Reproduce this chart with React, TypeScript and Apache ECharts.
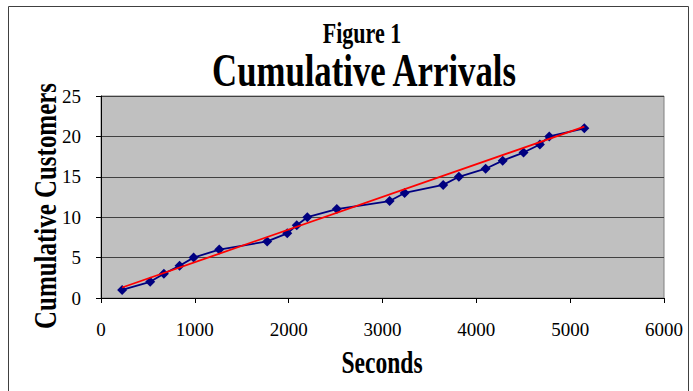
import React, { useEffect, useRef } from "react";
import * as echarts from "echarts";

const seconds = [225, 524, 670, 837, 987, 1260, 1771, 1985, 2086, 2199, 2513, 3076, 3236, 3647, 3814, 4099, 4281, 4503, 4677, 4777, 5151];
const customers = [1, 2, 3, 4, 5, 6, 7, 8, 9, 10, 11, 12, 13, 14, 15, 16, 17, 18, 19, 20, 21];
const trendX = [225, 5151];
const trendY = [1.3, 21.2];
const titleTop = "Figure 1";
const titleMain = "Cumulative Arrivals";
const xName = "Seconds";
const yName = "Cumulative Customers";

const SERIF = '"Liberation Serif", "Times New Roman", serif';

export default function App() {
  const ref = useRef<HTMLDivElement>(null);
  useEffect(() => {
    const chart = echarts.init(ref.current!, null, { renderer: "svg" });
    chart.setOption({
      animation: false,
      backgroundColor: "#ffffff",
      grid: {
        left: 101,
        top: 96,
        width: 563,
        height: 202,
        show: true,
        backgroundColor: "#C0C0C0",
        borderColor: "#808080",
        borderWidth: 1,
      },
      xAxis: {
        type: "value",
        min: 0,
        max: 6000,
        interval: 1000,
        axisLine: { show: true, onZero: false, lineStyle: { color: "#000", width: 1 } },
        axisTick: { show: true, inside: false, length: 5, lineStyle: { color: "#000" } },
        axisLabel: { color: "#000", fontFamily: SERIF, fontSize: 19, margin: 22, formatter: (v: number) => String(v) },
        splitLine: { show: false },
      },
      yAxis: {
        type: "value",
        min: 0,
        max: 25,
        interval: 5,
        axisLine: { show: true, lineStyle: { color: "#000", width: 1 } },
        axisTick: { show: true, inside: false, length: 5, lineStyle: { color: "#000" } },
        axisLabel: { color: "#000", fontFamily: SERIF, fontSize: 19, margin: 20 },
        splitLine: { show: true, lineStyle: { color: "#404040", width: 1 } },
      },
      series: [
        {
          type: "line",
          data: seconds.map((s, i) => [s, customers[i]]),
          symbol: "diamond",
          symbolSize: 10,
          itemStyle: { color: "#000080" },
          lineStyle: { color: "#000080", width: 1.8 },
          z: 2,
        },
        {
          type: "line",
          data: trendX.map((s, i) => [s, trendY[i]]),
          symbol: "none",
          lineStyle: { color: "#FF0000", width: 1.8 },
          z: 3,
        },
      ],
      graphic: [
        {
          type: "rect",
          silent: true,
          z: -10,
          shape: { x: 8.5, y: 6.5, width: 680, height: 400 },
          style: { fill: "none", stroke: "#404040", lineWidth: 1 },
        },
        {
          type: "text",
          x: 362,
          y: 33,
          scaleX: 0.76,
          style: { text: titleTop, fontFamily: SERIF, fontWeight: "bold", fontSize: 29, fill: "#000", align: "center", verticalAlign: "middle" },
        },
        {
          type: "text",
          x: 364,
          y: 71,
          scaleX: 0.755,
          style: { text: titleMain, fontFamily: SERIF, fontWeight: "bold", fontSize: 46, fill: "#000", align: "center", verticalAlign: "middle" },
        },
        {
          type: "text",
          x: 382,
          y: 362,
          scaleX: 0.76,
          style: { text: xName, fontFamily: SERIF, fontWeight: "bold", fontSize: 31, fill: "#000", align: "center", verticalAlign: "middle" },
        },
        {
          type: "text",
          x: 45,
          y: 206,
          rotation: Math.PI / 2,
          scaleX: 0.78,
          style: { text: yName, fontFamily: SERIF, fontWeight: "bold", fontSize: 32, fill: "#000", align: "center", verticalAlign: "middle" },
        },
      ],
    });
    return () => chart.dispose();
  }, []);
  return <div ref={ref} style={{ position: "absolute", left: 0, top: 0, width: 693, height: 391 }} />;
}
